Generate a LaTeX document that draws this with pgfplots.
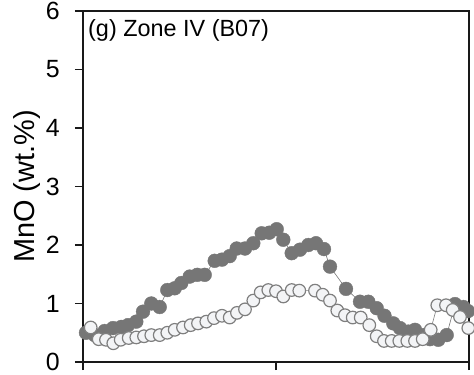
\documentclass[border=0pt]{standalone}
\usepackage{pgfplots}
\pgfplotsset{compat=1.18}
\usepackage{fontspec}
\setmainfont{Liberation Sans}

\definecolor{rimgray}{HTML}{767676}
\definecolor{coregray}{HTML}{7F7F7F}
\definecolor{openfill}{HTML}{F3F4F6}

\begin{document}
\begin{tikzpicture}
\begin{axis}[
  name=ax,
  scale only axis,
  width=386bp, height=351bp,
  xmin=0, xmax=386,
  ymin=0, ymax=6,
  xtick={0,193,386}, xticklabels={},
  ytick={0,1,2,3,4,5,6},
  tick pos=left,
  tick align=outside,
  major tick length=8bp,
  axis line style={line width=1.3bp, black!90},
  every tick/.style={line width=1.3bp, black!90},
  /pgf/number format/assume math mode=true,
  tick label style={font=\fontsize{25}{25}\selectfont},
  yticklabel style={inner sep=1bp, xshift=-14bp},
  ylabel={MnO (wt.\%)},
  ylabel style={font=\fontsize{29}{29}\selectfont, at={(axis description cs:-0.1244,0.5)}, anchor=base, rotate=0},
  clip=false,
]
% rim analyses (filled)
\addplot[color=rimgray, line width=0.6bp, mark=*,
  mark options={fill=rimgray, draw=rimgray, line width=0.4bp}, mark size=6.9bp]
table {
x y
3 0.50
11.7 0.46
21.7 0.53
30 0.58
38.3 0.60
45 0.63
53.3 0.69
60 0.86
68.3 1.00
76.7 0.94
84.3 1.23
91.7 1.26
98.3 1.35
106.7 1.46
114.3 1.49
121.7 1.49
131.7 1.73
139 1.75
146.7 1.81
153.7 1.94
162 1.94
170.3 2.03
178.7 2.20
186.3 2.21
193.7 2.27
200.3 2.09
208.7 1.86
217 1.92
225.3 2.00
233 2.03
241 1.93
247 1.63
263 1.25
277 1.03
285.3 1.03
293.7 0.92
301.5 0.79
310.3 0.66
317 0.58
325.3 0.52
332 0.55
340.3 0.46
347 0.39
355.3 0.38
363.7 0.46
372 0.99
380.3 0.94
385 0.87
};
% core analyses (open)
\addplot[color=coregray, line width=0.6bp, mark=*,
  mark options={fill=openfill, draw=coregray, line width=1.2bp}, mark size=6.3bp]
table {
x y
7.7 0.59
15.7 0.39
23 0.38
30.3 0.32
37.7 0.38
45.7 0.41
53.3 0.42
61 0.44
68.3 0.46
76.7 0.46
84.3 0.50
91.7 0.55
100 0.59
107.7 0.63
115 0.66
123.3 0.69
131 0.75
139 0.79
146.7 0.76
154 0.84
162 0.90
170.3 1.05
177.7 1.19
185.3 1.23
193 1.21
200.3 1.12
208.7 1.23
216.3 1.22
232 1.22
239.7 1.15
247 1.05
254.3 0.88
262 0.80
269.7 0.76
277.7 0.76
286.3 0.63
293.7 0.44
301 0.36
308.7 0.36
316.3 0.36
324.3 0.36
332 0.36
339.7 0.39
347.7 0.55
354.3 0.97
363 0.97
369.7 0.89
377 0.77
385.3 0.58
};
\node[anchor=base west, font=\fontsize{23.5}{23.5}\selectfont, inner sep=0pt]
  at ([shift={(5bp,-26bp)}]rel axis cs:0,1) {(g) Zone IV (B07)};
\end{axis}
\pgfresetboundingbox
\path[use as bounding box] ([shift={(-83bp,-13bp)}]ax.south west) rectangle ([shift={(5bp,11bp)}]ax.north east);
\end{tikzpicture}
\end{document}
